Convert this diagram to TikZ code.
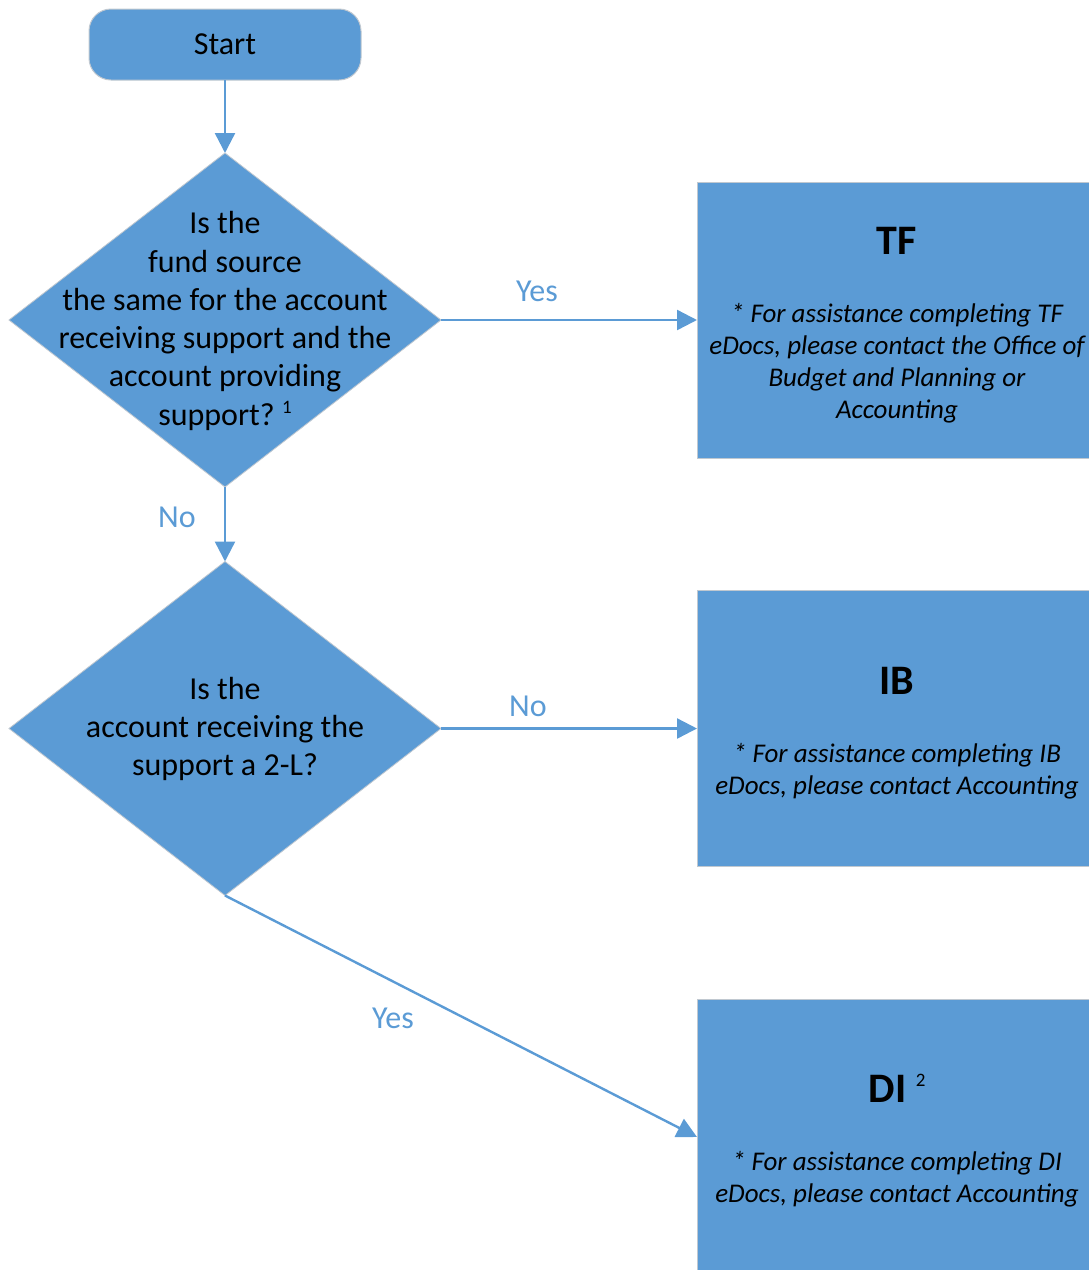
\documentclass[tikz,border=0pt]{standalone}
\usepackage{fontspec}
\setmainfont{Carlito}
\usetikzlibrary{shapes.geometric,arrows.meta}
\definecolor{blu}{HTML}{5B9BD5}
\definecolor{edgec}{HTML}{C0C8D0}
\newcommand{\supmark}[2]{\raisebox{#2}{\fontsize{19}{19}\selectfont\mdseries\upshape #1}}
\begin{document}
\begin{tikzpicture}[x=1pt,y=-1pt,
  every node/.style={inner sep=0pt,outer sep=0pt},
  startbox/.style={draw=edgec,line width=1pt,fill=blu,rounded corners=22pt,minimum width=272pt,minimum height=71pt,font=\fontsize{32}{36}\selectfont},
  decision/.style={diamond,draw=edgec,line width=0.8pt,fill=blu,minimum width=432pt,minimum height=334pt},
  qtext/.style={align=center,font=\fontsize{32}{38.3}\selectfont},
  outbox/.style={rectangle,draw=edgec,line width=1pt,fill=blu,minimum width=400pt,minimum height=276pt},
  otitle/.style={font=\fontsize{42}{48}\selectfont\bfseries},
  onote/.style={align=center,font=\fontsize{27}{32}\selectfont\itshape},
  flow/.style={draw=blu,line width=2.4pt,-{Triangle[length=20pt,width=20pt]}},
  lab/.style={text=blu,font=\fontsize{32}{36}\selectfont},
]
\useasboundingbox (0,0) rectangle (1089,1270);

\node[startbox] (start) at (225,44.5) {Start};

\node[decision] (d1) at (225,320) {};
\node[qtext] (q1) at (225,321) {Is the\\fund source\\the same for the account\\receiving support and the\\account providing\\support?~\supmark{1}{12pt}};

\node[decision] (d2) at (225,728.5) {};
\node[qtext] (q2) at (225,729) {Is the\\account receiving the\\support a 2-L?};

\node[outbox] (tf) at (897,320) {};
\node[otitle] (tft) at (897,241) {TF};
\node[onote] (tfn) at (897,363) {* For assistance completing TF\\eDocs, please contact the Office of\\Budget and Planning or\\Accounting};

\node[outbox] (ib) at (897,728.5) {};
\node[otitle] (ibt) at (897,681) {IB};
\node[onote] (ibn) at (897,771) {* For assistance completing IB\\eDocs, please contact Accounting};

\node[outbox] (di) at (897,1137) {};
\node[otitle] (dit) at (897,1088) {DI~\supmark{2}{16pt}};
\node[onote] (din) at (897,1179) {* For assistance completing DI\\eDocs, please contact Accounting};

\draw[flow] (start.south) -- (d1.north);
\draw[flow] (d1.south) -- (d2.north);
\draw[flow] (d1.east) -- (tf.west);
\draw[flow] (d2.east) -- (ib.west);
\draw[flow] (d2.south) -- (di.west);

\node[lab] (l1) at (537,291) {Yes};
\node[lab] (l2) at (177,517) {No};
\node[lab] (l3) at (528,706) {No};
\node[lab] (l4) at (393,1018) {Yes};
\end{tikzpicture}
\end{document}
